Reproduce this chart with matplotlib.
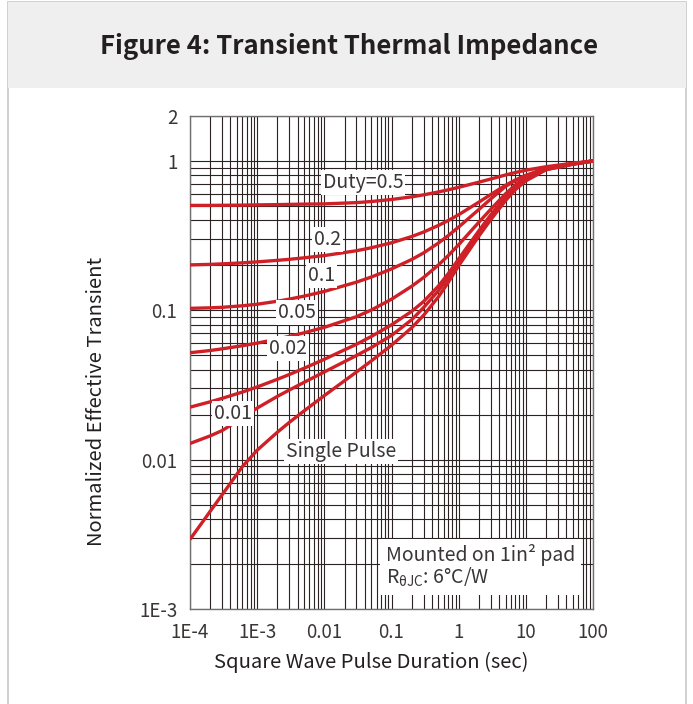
import matplotlib
matplotlib.use('Agg')
import matplotlib.pyplot as plt
from matplotlib.patches import Rectangle

plt.rcParams['font.family'] = ['Noto Sans CJK SC', 'DejaVu Sans']
plt.rcParams['mathtext.fontset'] = 'custom'
plt.rcParams['mathtext.rm'] = 'Noto Sans CJK SC'

# pulse duration (sec), same grid for every curve
pulse_t = [1e-4, 2e-4, 3e-4, 6e-4, 1e-3, 2e-3, 3e-3, 5e-3, 0.01, 0.03, 0.05, 0.1, 0.2,
           0.3, 0.5, 0.7, 1, 2, 3, 5, 7, 10, 20, 50, 100]

# normalized effective transient thermal impedance
duty_05 = [0.504, 0.504, 0.505, 0.506, 0.508, 0.510, 0.512, 0.514, 0.516, 0.526, 0.535, 0.552, 0.575,
           0.593, 0.620, 0.641, 0.666, 0.721, 0.757, 0.806, 0.837, 0.867, 0.915, 0.965, 1.0]
duty_02 = [0.2014, 0.2030, 0.2046, 0.2078, 0.2110, 0.2160, 0.2194, 0.2246, 0.2325, 0.2505, 0.2623, 0.2831, 0.3119,
           0.3341, 0.370, 0.3993, 0.4365, 0.530, 0.596, 0.688, 0.746, 0.801, 0.895, 0.958, 1.0]
duty_01 = [0.1031, 0.1039, 0.1047, 0.1072, 0.1098, 0.1150, 0.1188, 0.1244, 0.1338, 0.1543, 0.1670, 0.1892, 0.2189,
           0.2422, 0.2822, 0.3165, 0.3611, 0.4733, 0.5566, 0.676, 0.740, 0.795, 0.890, 0.956, 1.0]
duty_005 = [0.0520, 0.0538, 0.0552, 0.0579, 0.0603, 0.0642, 0.0669, 0.0707, 0.0769, 0.0906, 0.1004, 0.1186, 0.1449,
            0.1657, 0.2012, 0.2325, 0.2750, 0.3890, 0.4745, 0.6032, 0.692, 0.779, 0.885, 0.955, 1.0]
duty_002 = [0.02246, 0.02440, 0.02572, 0.02834, 0.03068, 0.03452, 0.03714, 0.04093, 0.0470, 0.05921, 0.06676, 0.07995, 0.09845,
            0.1144, 0.1454, 0.1761, 0.2206, 0.3412, 0.4352, 0.5735, 0.6649, 0.7507, 0.880, 0.953, 1.0]
duty_001 = [0.01283, 0.01443, 0.01565, 0.01900, 0.02215, 0.02653, 0.02923, 0.03295, 0.03866, 0.04977, 0.05627, 0.06787, 0.0865,
            0.1042, 0.1353, 0.1655, 0.2080, 0.3264, 0.4195, 0.5585, 0.6520, 0.7414, 0.876, 0.952, 1.0]
single_pulse = [0.002925, 0.004511, 0.00581, 0.00896, 0.01157, 0.01527, 0.01774, 0.02122, 0.02685, 0.03859, 0.04578, 0.05836, 0.07647,
                0.09252, 0.1231, 0.1538, 0.1988, 0.3142, 0.4040, 0.5433, 0.6428, 0.736, 0.874, 0.951, 1.0]

curves = [duty_05, duty_02, duty_01, duty_005, duty_002, duty_001, single_pulse]

# curve labels: text, x (sec), y
curve_labels = [
    ('Duty=0.5', 0.0375, 0.721),
    ('0.2', 0.0113, 0.297),
    ('0.1', 0.0092, 0.170),
    ('0.05', 0.0039, 0.097),
    ('0.02', 0.0029, 0.0554),
    ('0.01', 4.4e-4, 0.0205),
    ('Single Pulse', 0.0177, 0.0113),
]

x_ticks = [1e-4, 1e-3, 0.01, 0.1, 1, 10, 100]
x_tick_labels = ['1E-4', '1E-3', '0.01', '0.1', '1', '10', '100']
y_ticks = [1e-3, 0.01, 0.1, 1, 2]
y_tick_labels = ['1E-3', '0.01', '0.1', '1', '2']

W, H = 693, 704
fig = plt.figure(figsize=(W / 100, H / 100), dpi=100)

# card frame and header band
fig.patches.append(Rectangle((8 / W, -0.01), 678 / W, 1.01 - 2 / H, transform=fig.transFigure,
                             facecolor='white', edgecolor='#c8c8c8', linewidth=1.2, zorder=-3))
fig.patches.append(Rectangle((8 / W, 1 - 88 / H), 678 / W, 86 / H, transform=fig.transFigure,
                             facecolor='#efefef', edgecolor='none', zorder=-2))
fig.text(349 / W, 1 - 46 / H, 'Figure 4: Transient Thermal Impedance', ha='center', va='center',
         fontsize=18.5, fontweight='bold', color='#231f20')

ax = fig.add_axes([190 / W, 1 - 609 / H, 403 / W, 493 / H])
ax.set_xscale('log')
ax.set_yscale('log')
ax.set_xlim(1e-4, 100)
ax.set_ylim(1e-3, 2)

ax.grid(True, which='both', color='#2b2323', linewidth=0.8, zorder=1)
ax.set_axisbelow(True)
for s in ax.spines.values():
    s.set_color('#707070')
    s.set_linewidth(1.0)

for z in curves:
    ax.plot(pulse_t, z, color='#cf2027', linewidth=2.4, solid_capstyle='butt',
            solid_joinstyle='round', zorder=3)

for txt, x, y in curve_labels:
    ax.text(x, y, txt, fontsize=14, color='#3a3636', ha='center', va='center', zorder=4,
            bbox=dict(boxstyle='square,pad=0.1', facecolor='white', edgecolor='none'))

ax.text(0.0825, 0.00272, 'Mounted on 1in\u00b2 pad\nR$_{\\mathrm{\u03b8JC}}$: 6\u00b0C/W', fontsize=14,
        color='#3a3636', ha='left', va='top', linespacing=1.0, zorder=4,
        bbox=dict(boxstyle='square,pad=0.3', facecolor='white', edgecolor='none'))

ax.set_xticks(x_ticks)
ax.set_xticklabels(x_tick_labels)
ax.set_yticks(y_ticks)
ax.set_yticklabels(y_tick_labels)
ax.tick_params(axis='both', which='both', length=0, labelsize=13.5, labelcolor='#3a3636')
ax.tick_params(axis='x', pad=9)
ax.tick_params(axis='y', pad=9)

fig.text(371 / W, 1 - 662 / H, 'Square Wave Pulse Duration (sec)', ha='center', va='center',
         fontsize=14.5, color='#231f20')
fig.text(97 / W, 1 - 401 / H, 'Normalized Effective Transient', ha='center', va='center',
         rotation=90, fontsize=14.5, color='#231f20')

fig.savefig('out.png', dpi=100)
